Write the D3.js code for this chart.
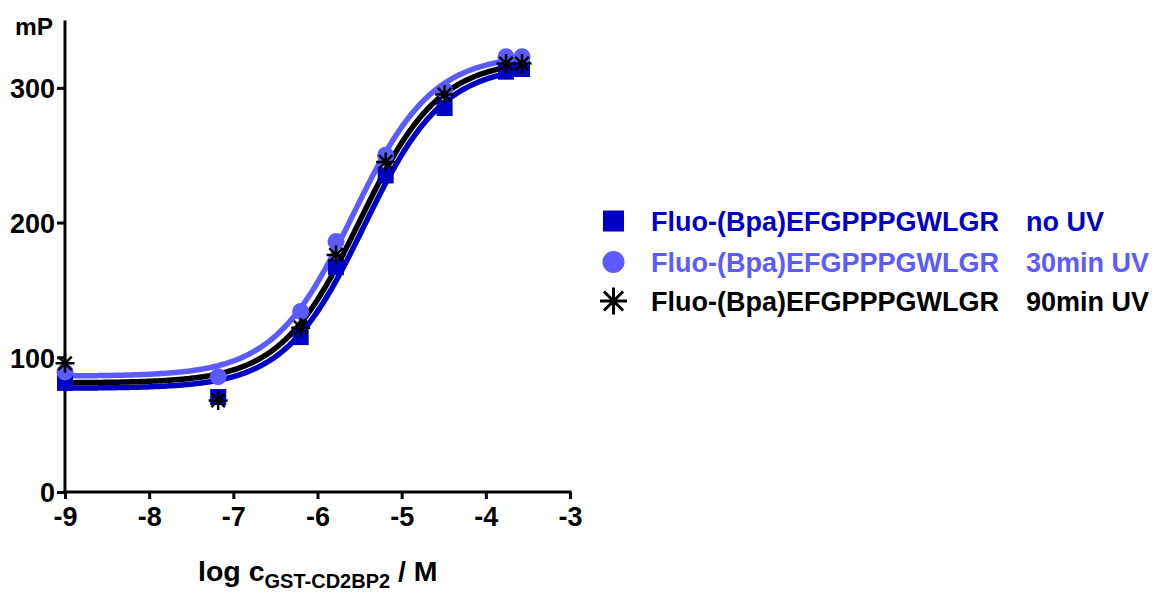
<!DOCTYPE html>
<html>
<head>
<meta charset="utf-8">
<script src="https://cdn.jsdelivr.net/npm/d3@7"></script>
<style>
  body { margin: 0; background: #fff; }
  svg { display: block; font-family: "Liberation Sans", Arial, sans-serif; font-weight: bold; }
</style>
</head>
<body>
<svg id="chart" width="1156" height="595"></svg>
<script>
// log concentration of GST-CD2BP2 (M)
const logConc = [-9, -7.18, -6.2, -5.78, -5.19, -4.49, -3.76, -3.57];

// anisotropy readings (mP) per irradiation condition
const noUV   = [81, 70.5, 115, 167, 235, 285, 312, 314];
const uv30   = [89, 85.6, 134, 186, 250, 298, 323, 323];
const uv90   = [95.5, 68, 122, 176, 245, 295, 318, 318];

// sigmoidal dose-response fit parameters: [bottom, top, logEC50, hill]
const fitNoUV = [77, 317, -5.45, 0.92];
const fit30   = [86, 325, -5.58, 0.92];
const fit90   = [81, 321, -5.5, 0.92];

const xTicks = [-9, -8, -7, -6, -5, -4, -3];
const yTicks = [0, 100, 200, 300];

const seriesNames = ["no UV", "30min UV", "90min UV"];
const peptide = "Fluo-(Bpa)EFGPPPGWLGR";

const svg = d3.select("#chart");
const x = d3.scaleLinear().domain([-9, -3]).range([65, 570]);
const y = d3.scaleLinear().domain([0, 350]).range([492, 20.5]);

const colors = ["#0000c4", "#5b5bff", "#000000"];
const series = [
  { vals: noUV, fit: fitNoUV, color: colors[0], shape: "square" },
  { vals: uv30, fit: fit30, color: colors[1], shape: "circle" },
  { vals: uv90, fit: fit90, color: colors[2], shape: "star" }
];

// axes
const xAxis = svg.append("g").attr("transform", `translate(0,${y(0)})`)
  .call(d3.axisBottom(x).tickValues(xTicks).tickSize(7).tickSizeOuter(0).tickFormat(d => String(d)));
const yAxis = svg.append("g").attr("transform", `translate(${x(-9)},0)`)
  .call(d3.axisLeft(y).tickValues(yTicks).tickSize(8).tickSizeOuter(0).tickFormat(d => String(d)));
[xAxis, yAxis].forEach(a => {
  a.select(".domain").attr("stroke", "#000").attr("stroke-width", 3);
  a.selectAll(".tick line").attr("stroke", "#000").attr("stroke-width", 3);
  a.selectAll(".tick text").attr("fill", "#000").attr("font-size", 27)
    .attr("font-family", "Liberation Sans, Arial, sans-serif").attr("font-weight", "bold");
});
xAxis.selectAll(".tick text").attr("dy", 0).attr("y", 34);
yAxis.selectAll(".tick text").attr("x", -10).attr("dy", "0.36em");
// axis lines: y runs up to the top of its range, x spans the full range
yAxis.select(".domain").attr("d", `M0,${y(0) + 1.5}V${y(350)}`);
xAxis.select(".domain").attr("d", `M${x(-9) - 1.5},0H${x(-3) + 1.5}`);

// y axis unit
svg.append("text").attr("x", 15).attr("y", 35).attr("font-size", 24.5).attr("fill", "#000").text("mP");

// x axis title
const xt = svg.append("text").attr("x", 198).attr("y", 581).attr("font-size", 28.5).attr("fill", "#000");
xt.append("tspan").text("log c");
xt.append("tspan").attr("font-size", 20).attr("dy", 7).text("GST-CD2BP2");
xt.append("tspan").attr("dy", -7).text(" / M");

// fitted curves
const grid = d3.range(-9, -3.549, 0.02);
const logistic = (p, v) => p[0] + (p[1] - p[0]) / (1 + Math.pow(10, p[3] * (p[2] - v)));
const line = d3.line().x(d => x(d[0])).y(d => y(d[1])).curve(d3.curveLinear);
series.forEach(s => {
  svg.append("path")
    .datum(grid.map(v => [v, logistic(s.fit, v)]))
    .attr("d", line).attr("fill", "none").attr("stroke", s.color).attr("stroke-width", 5.5);
});

// markers
function drawMarker(g, shape, cx, cy, color, size) {
  if (shape === "square") {
    g.append("rect").attr("x", cx - size / 2).attr("y", cy - size / 2)
      .attr("width", size).attr("height", size).attr("fill", color);
  } else if (shape === "circle") {
    g.append("circle").attr("cx", cx).attr("cy", cy).attr("r", size / 2 + 0.5).attr("fill", color);
  } else {
    const r = size / 2 + 1.5;
    const p = d3.path();
    for (let k = 0; k < 4; k++) {
      const a = k * Math.PI / 4;
      p.moveTo(cx - r * Math.cos(a), cy - r * Math.sin(a));
      p.lineTo(cx + r * Math.cos(a), cy + r * Math.sin(a));
    }
    g.append("path").attr("d", p.toString()).attr("stroke", color)
      .attr("stroke-width", size > 18 ? 3 : 2.5).attr("fill", "none");
  }
}
const markers = svg.append("g");
series.forEach(s => {
  s.vals.forEach((v, i) => drawMarker(markers, s.shape, x(logConc[i]), y(v), s.color, 16));
});

// legend
const legendY = [221, 262, 301];
series.forEach((s, i) => {
  const g = svg.append("g");
  drawMarker(g, s.shape, 613.5, legendY[i], s.color, s.shape === "star" ? 24 : 21);
  g.append("text").attr("x", 651).attr("y", legendY[i]).attr("dy", "0.36em")
    .attr("font-size", 27).attr("fill", s.color).text(peptide);
  g.append("text").attr("x", 1026).attr("y", legendY[i]).attr("dy", "0.36em")
    .attr("font-size", 27).attr("fill", s.color).text(seriesNames[i]);
});
</script>
</body>
</html>
